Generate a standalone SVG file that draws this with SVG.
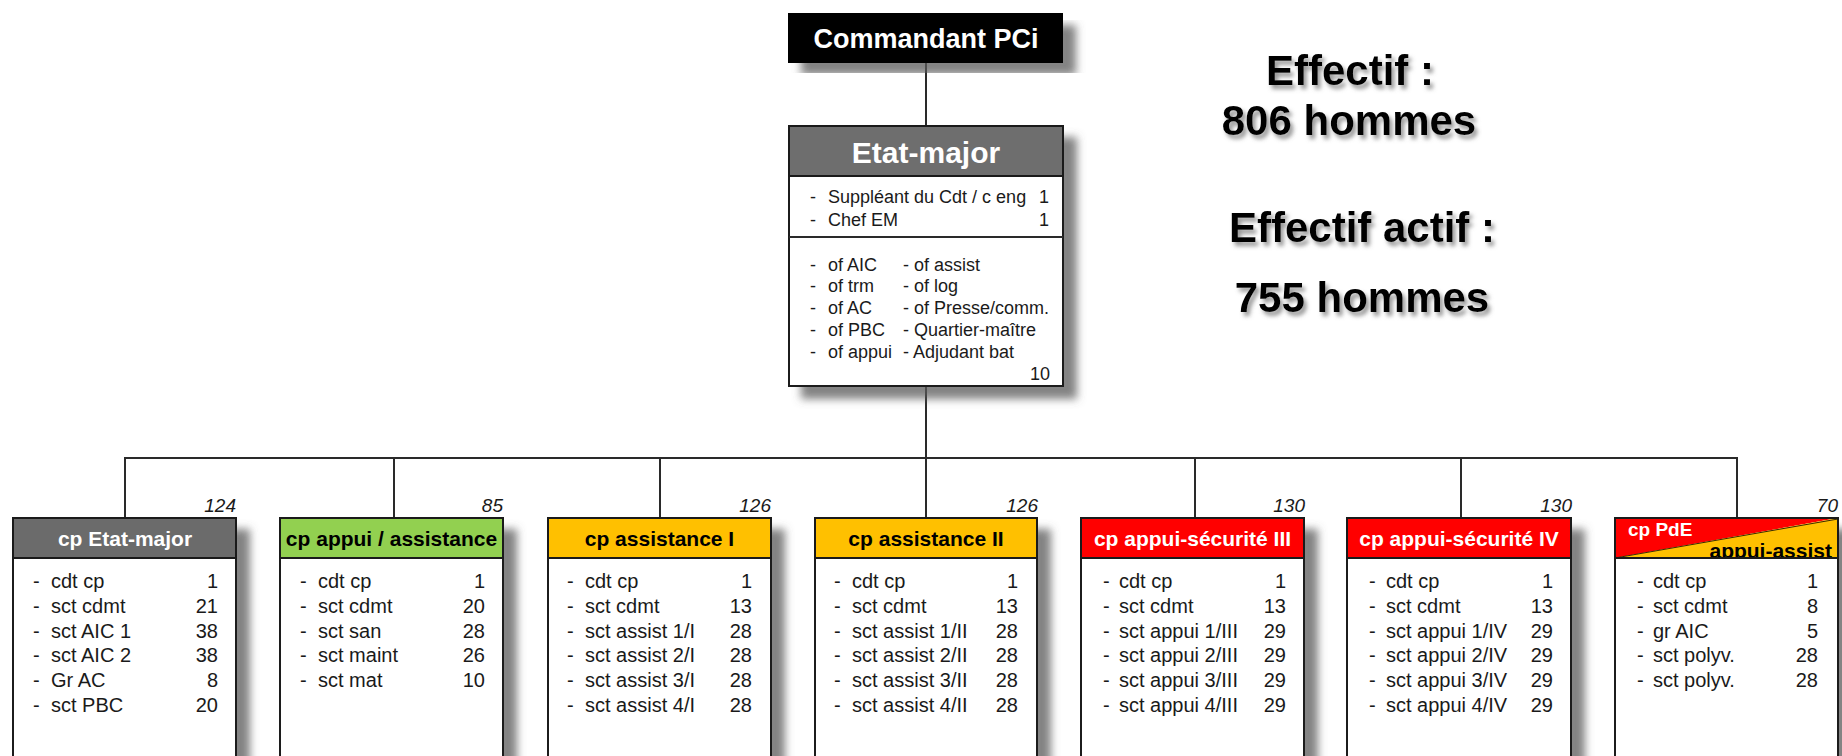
<svg xmlns="http://www.w3.org/2000/svg" width="1842" height="756" viewBox="0 0 1842 756">
<defs>
<filter id="sh" x="-10%" y="-10%" width="130%" height="130%">
<feGaussianBlur in="SourceAlpha" stdDeviation="4"/>
<feOffset dx="13" dy="12" result="b"/>
<feFlood flood-color="#5a5a5a" flood-opacity="0.75"/>
<feComposite in2="b" operator="in"/>
<feMerge><feMergeNode/><feMergeNode in="SourceGraphic"/></feMerge>
</filter>
<filter id="tsh" x="-10%" y="-20%" width="130%" height="150%">
<feGaussianBlur in="SourceAlpha" stdDeviation="2"/>
<feOffset dx="3" dy="4" result="b"/>
<feFlood flood-color="#6a6a6a" flood-opacity="0.7"/>
<feComposite in2="b" operator="in"/>
<feMerge><feMergeNode/><feMergeNode in="SourceGraphic"/></feMerge>
</filter>
<clipPath id="pdeclip"><rect x="1615" y="518" width="223" height="40"/></clipPath>
</defs>
<style>
text{font-family:"Liberation Sans",Arial,sans-serif;}
.box{fill:#fff;stroke:#1a1a1a;stroke-width:2;}
.hdr{stroke:#1a1a1a;stroke-width:2;}
.ln{stroke:#2a2a2a;stroke-width:2;fill:none;}
.ht{font-size:21px;font-weight:bold;text-anchor:middle;}
.bt{font-size:20px;fill:#1a1a1a;}
.num{font-size:20px;fill:#1a1a1a;text-anchor:end;}
.tot{font-size:19px;font-style:italic;fill:#1a1a1a;text-anchor:end;}
.em{font-size:18px;fill:#1a1a1a;}
.big{font-size:42px;font-weight:bold;fill:#000;}
.white{fill:#fff;}
.black{fill:#000;}
</style>
<rect width="1842" height="756" fill="#fff"/>

<g id="connectors">
<line class="ln" x1="926" y1="63" x2="926" y2="126"/>
<line class="ln" x1="926" y1="386" x2="926" y2="518" stroke="#555"/>
<line class="ln" x1="124" y1="458" x2="1738" y2="458"/>
<line class="ln" x1="125" y1="458" x2="125" y2="518"/>
<line class="ln" x1="394" y1="458" x2="394" y2="518"/>
<line class="ln" x1="660" y1="458" x2="660" y2="518"/>
<line class="ln" x1="1195" y1="458" x2="1195" y2="518"/>
<line class="ln" x1="1461" y1="458" x2="1461" y2="518"/>
<line class="ln" x1="1737" y1="458" x2="1737" y2="518"/>
</g>

<g id="commandant">
<rect x="788" y="13" width="275" height="50" fill="#000" filter="url(#sh)"/>
<text x="926" y="48" font-size="27" font-weight="bold" fill="#fff" text-anchor="middle">Commandant PCi</text>
</g>

<g id="etat-major">
<rect class="box" x="789" y="126" width="274" height="260" filter="url(#sh)"/>
<rect class="hdr" x="789" y="126" width="274" height="50" fill="#6e6e6e"/>
<line class="ln" x1="789" y1="237" x2="1063" y2="237"/>
<text x="926" y="163" font-size="30" font-weight="bold" fill="#fff" text-anchor="middle">Etat-major</text>
<text class="em" x="810" y="203">-</text><text class="em" x="828" y="203">Suppléant du Cdt / c eng</text><text class="em" x="1049" y="203" text-anchor="end">1</text>
<text class="em" x="810" y="226">-</text><text class="em" x="828" y="226">Chef EM</text><text class="em" x="1049" y="226" text-anchor="end">1</text>
<text class="em" x="810" y="271">-</text><text class="em" x="828" y="271">of AIC</text><text class="em" x="903" y="271">- of assist</text>
<text class="em" x="810" y="292">-</text><text class="em" x="828" y="292">of trm</text><text class="em" x="903" y="292">- of log</text>
<text class="em" x="810" y="314">-</text><text class="em" x="828" y="314">of AC</text><text class="em" x="903" y="314">- of Presse/comm.</text>
<text class="em" x="810" y="336">-</text><text class="em" x="828" y="336">of PBC</text><text class="em" x="903" y="336">- Quartier-maître</text>
<text class="em" x="810" y="358">-</text><text class="em" x="828" y="358">of appui</text><text class="em" x="903" y="358">- Adjudant bat</text>
<text class="em" x="1050" y="380" text-anchor="end">10</text>
</g>

<g id="effectif" filter="url(#tsh)">
<text class="big" x="1350" y="85" text-anchor="middle" font-size="41">Effectif :</text>
<text class="big" x="1349" y="135" text-anchor="middle" font-size="41">806 hommes</text>
<text class="big" x="1362" y="242" text-anchor="middle">Effectif actif :</text>
<text class="big" x="1362" y="312" text-anchor="middle">755 hommes</text>
</g>

<g id="cp-etat-major">
<rect class="box" x="13" y="518" width="223" height="260" filter="url(#sh)"/>
<rect class="hdr" x="13" y="518" width="223" height="40" fill="#6b6b6b"/>
<text class="ht white" x="125" y="546">cp Etat-major</text>
<text class="tot" x="236" y="512">124</text>
<text class="bt" x="33" y="588">-</text><text class="bt" x="51" y="588">cdt cp</text><text class="num" x="218" y="588">1</text>
<text class="bt" x="33" y="613">-</text><text class="bt" x="51" y="613">sct cdmt</text><text class="num" x="218" y="613">21</text>
<text class="bt" x="33" y="638">-</text><text class="bt" x="51" y="638">sct AIC 1</text><text class="num" x="218" y="638">38</text>
<text class="bt" x="33" y="662">-</text><text class="bt" x="51" y="662">sct AIC 2</text><text class="num" x="218" y="662">38</text>
<text class="bt" x="33" y="687">-</text><text class="bt" x="51" y="687">Gr AC</text><text class="num" x="218" y="687">8</text>
<text class="bt" x="33" y="712">-</text><text class="bt" x="51" y="712">sct PBC</text><text class="num" x="218" y="712">20</text>
</g>

<g id="cp-appui-assistance">
<rect class="box" x="280" y="518" width="223" height="260" filter="url(#sh)"/>
<rect class="hdr" x="280" y="518" width="223" height="40" fill="#92d050"/>
<text class="ht black" x="391.5" y="546">cp appui / assistance</text>
<text class="tot" x="503" y="512">85</text>
<text class="bt" x="300" y="588">-</text><text class="bt" x="318" y="588">cdt cp</text><text class="num" x="485" y="588">1</text>
<text class="bt" x="300" y="613">-</text><text class="bt" x="318" y="613">sct cdmt</text><text class="num" x="485" y="613">20</text>
<text class="bt" x="300" y="638">-</text><text class="bt" x="318" y="638">sct san</text><text class="num" x="485" y="638">28</text>
<text class="bt" x="300" y="662">-</text><text class="bt" x="318" y="662">sct maint</text><text class="num" x="485" y="662">26</text>
<text class="bt" x="300" y="687">-</text><text class="bt" x="318" y="687">sct mat</text><text class="num" x="485" y="687">10</text>
</g>

<g id="cp-assistance-1">
<rect class="box" x="548" y="518" width="223" height="260" filter="url(#sh)"/>
<rect class="hdr" x="548" y="518" width="223" height="40" fill="#ffc000"/>
<text class="ht black" x="659.5" y="546">cp assistance I</text>
<text class="tot" x="771" y="512">126</text>
<text class="bt" x="567" y="588">-</text><text class="bt" x="585" y="588">cdt cp</text><text class="num" x="752" y="588">1</text>
<text class="bt" x="567" y="613">-</text><text class="bt" x="585" y="613">sct cdmt</text><text class="num" x="752" y="613">13</text>
<text class="bt" x="567" y="638">-</text><text class="bt" x="585" y="638">sct assist 1/I</text><text class="num" x="752" y="638">28</text>
<text class="bt" x="567" y="662">-</text><text class="bt" x="585" y="662">sct assist 2/I</text><text class="num" x="752" y="662">28</text>
<text class="bt" x="567" y="687">-</text><text class="bt" x="585" y="687">sct assist 3/I</text><text class="num" x="752" y="687">28</text>
<text class="bt" x="567" y="712">-</text><text class="bt" x="585" y="712">sct assist 4/I</text><text class="num" x="752" y="712">28</text>
</g>

<g id="cp-assistance-2">
<rect class="box" x="815" y="518" width="222" height="260" filter="url(#sh)"/>
<rect class="hdr" x="815" y="518" width="222" height="40" fill="#ffc000"/>
<text class="ht black" x="926" y="546">cp assistance II</text>
<text class="tot" x="1038" y="512">126</text>
<text class="bt" x="834" y="588">-</text><text class="bt" x="852" y="588">cdt cp</text><text class="num" x="1018" y="588">1</text>
<text class="bt" x="834" y="613">-</text><text class="bt" x="852" y="613">sct cdmt</text><text class="num" x="1018" y="613">13</text>
<text class="bt" x="834" y="638">-</text><text class="bt" x="852" y="638">sct assist 1/II</text><text class="num" x="1018" y="638">28</text>
<text class="bt" x="834" y="662">-</text><text class="bt" x="852" y="662">sct assist 2/II</text><text class="num" x="1018" y="662">28</text>
<text class="bt" x="834" y="687">-</text><text class="bt" x="852" y="687">sct assist 3/II</text><text class="num" x="1018" y="687">28</text>
<text class="bt" x="834" y="712">-</text><text class="bt" x="852" y="712">sct assist 4/II</text><text class="num" x="1018" y="712">28</text>
</g>

<g id="cp-appui-securite-3">
<rect class="box" x="1081" y="518" width="223" height="260" filter="url(#sh)"/>
<rect class="hdr" x="1081" y="518" width="223" height="40" fill="#ff0000"/>
<text class="ht white" x="1192.5" y="546">cp appui-sécurité III</text>
<text class="tot" x="1305" y="512">130</text>
<text class="bt" x="1103" y="588">-</text><text class="bt" x="1119" y="588">cdt cp</text><text class="num" x="1286" y="588">1</text>
<text class="bt" x="1103" y="613">-</text><text class="bt" x="1119" y="613">sct cdmt</text><text class="num" x="1286" y="613">13</text>
<text class="bt" x="1103" y="638">-</text><text class="bt" x="1119" y="638">sct appui 1/III</text><text class="num" x="1286" y="638">29</text>
<text class="bt" x="1103" y="662">-</text><text class="bt" x="1119" y="662">sct appui 2/III</text><text class="num" x="1286" y="662">29</text>
<text class="bt" x="1103" y="687">-</text><text class="bt" x="1119" y="687">sct appui 3/III</text><text class="num" x="1286" y="687">29</text>
<text class="bt" x="1103" y="712">-</text><text class="bt" x="1119" y="712">sct appui 4/III</text><text class="num" x="1286" y="712">29</text>
</g>

<g id="cp-appui-securite-4">
<rect class="box" x="1347" y="518" width="224" height="260" filter="url(#sh)"/>
<rect class="hdr" x="1347" y="518" width="224" height="40" fill="#ff0000"/>
<text class="ht white" x="1459" y="546">cp appui-sécurité IV</text>
<text class="tot" x="1572" y="512">130</text>
<text class="bt" x="1369" y="588">-</text><text class="bt" x="1386" y="588">cdt cp</text><text class="num" x="1553" y="588">1</text>
<text class="bt" x="1369" y="613">-</text><text class="bt" x="1386" y="613">sct cdmt</text><text class="num" x="1553" y="613">13</text>
<text class="bt" x="1369" y="638">-</text><text class="bt" x="1386" y="638">sct appui 1/IV</text><text class="num" x="1553" y="638">29</text>
<text class="bt" x="1369" y="662">-</text><text class="bt" x="1386" y="662">sct appui 2/IV</text><text class="num" x="1553" y="662">29</text>
<text class="bt" x="1369" y="687">-</text><text class="bt" x="1386" y="687">sct appui 3/IV</text><text class="num" x="1553" y="687">29</text>
<text class="bt" x="1369" y="712">-</text><text class="bt" x="1386" y="712">sct appui 4/IV</text><text class="num" x="1553" y="712">29</text>
</g>

<g id="cp-pde">
<rect class="box" x="1615" y="518" width="223" height="260" filter="url(#sh)"/>
<polygon points="1615,518 1838,518 1615,558" fill="#ff0000"/>
<polygon points="1838,518 1838,558 1615,558" fill="#ffc000"/>
<line x1="1615" y1="558" x2="1838" y2="519" stroke="#3a2a00" stroke-width="1"/>
<text x="1628" y="536" font-size="19" font-weight="bold" fill="#fff">cp PdE</text>
<text x="1832" y="558" font-size="21" font-weight="bold" fill="#000" text-anchor="end" clip-path="url(#pdeclip)">appui-assist</text>
<rect x="1615" y="518" width="223" height="40" fill="none" stroke="#1a1a1a" stroke-width="2"/>
<text class="tot" x="1838" y="512">70</text>
<text class="bt" x="1637" y="588">-</text><text class="bt" x="1653" y="588">cdt cp</text><text class="num" x="1818" y="588">1</text>
<text class="bt" x="1637" y="613">-</text><text class="bt" x="1653" y="613">sct cdmt</text><text class="num" x="1818" y="613">8</text>
<text class="bt" x="1637" y="638">-</text><text class="bt" x="1653" y="638">gr AIC</text><text class="num" x="1818" y="638">5</text>
<text class="bt" x="1637" y="662">-</text><text class="bt" x="1653" y="662">sct polyv.</text><text class="num" x="1818" y="662">28</text>
<text class="bt" x="1637" y="687">-</text><text class="bt" x="1653" y="687">sct polyv.</text><text class="num" x="1818" y="687">28</text>
</g>
</svg>
